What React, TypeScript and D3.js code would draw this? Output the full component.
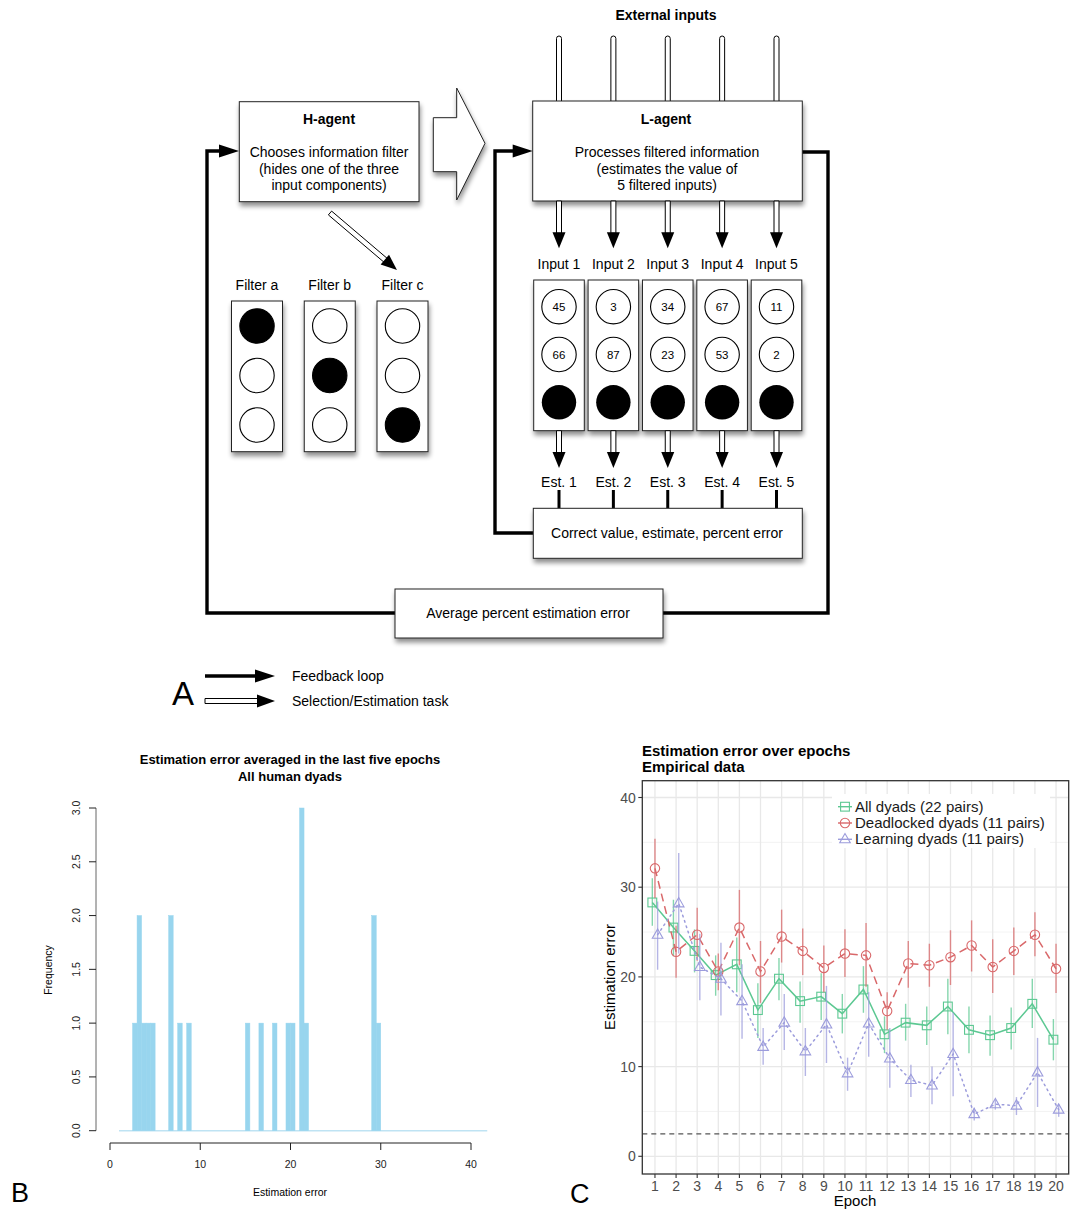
import React from "react";
import * as d3 from "d3";

const FONT = "'Liberation Sans', Arial, Helvetica, sans-serif";

// ---------- panel A: the agent diagram ----------
const inputLabels = ["Input 1", "Input 2", "Input 3", "Input 4", "Input 5"];
const estLabels = ["Est. 1", "Est. 2", "Est. 3", "Est. 4", "Est. 5"];
const inputFirst = [45, 3, 34, 67, 11];
const inputSecond = [66, 87, 23, 53, 2];
const filterLabels = ["Filter a", "Filter b", "Filter c"];
const filterHidden = [0, 1, 2]; // which of the three slots is blacked out
const hAgentText = ["Chooses information filter", "(hides one of the three", "input components)"];
const lAgentText = ["Processes filtered information", "(estimates the value of", "5 filtered inputs)"];
const legendAItems = ["Feedback loop", "Selection/Estimation task"];

// ---------- panel B: histogram ----------
const histBinStart = [2.5, 3, 3.5, 4, 4.5, 6.5, 7.5, 8.5, 15, 16.5, 18, 19.5, 20, 21, 21.5, 29, 29.5];
const histCounts = [1, 2, 1, 1, 1, 2, 1, 1, 1, 1, 1, 1, 1, 3, 1, 2, 1];
const histBinWidth = 0.5;
const histSpan = [1, 41.8];
const histXTicks = [0, 10, 20, 30, 40];
const histYTicks = [0, 0.5, 1, 1.5, 2, 2.5, 3];

// ---------- panel C: error over epochs ----------
const epochs = [1, 2, 3, 4, 5, 6, 7, 8, 9, 10, 11, 12, 13, 14, 15, 16, 17, 18, 19, 20];
const allMean = [28.3, 25.5, 22.9, 20.2, 21.4, 16.3, 19.8, 17.3, 17.8, 15.9, 18.6, 13.6, 14.9, 14.6, 16.7, 14.1, 13.5, 14.3, 17.0, 13.0];
const allLow = [25.7, 22.3, 20.5, 17.9, 18.3, 13.2, 17.4, 14.9, 15.2, 13.7, 16.0, 11.5, 12.9, 12.4, 13.6, 11.5, 11.2, 11.9, 14.3, 10.7];
const allHigh = [31.0, 28.6, 25.3, 22.4, 24.4, 19.3, 22.1, 19.5, 20.4, 18.1, 21.2, 15.6, 17.0, 16.7, 19.8, 16.7, 15.7, 16.6, 19.8, 15.3];
const deadMean = [32.1, 22.8, 24.7, 20.6, 25.5, 20.6, 24.5, 22.9, 21.0, 22.6, 22.4, 16.2, 21.5, 21.3, 22.2, 23.5, 21.1, 22.9, 24.7, 20.9];
const deadLow = [28.8, 19.9, 21.8, 18.5, 21.3, 17.1, 21.6, 20.2, 18.3, 20.0, 18.9, 14.1, 18.8, 18.9, 19.1, 20.6, 18.2, 20.2, 22.3, 18.2];
const deadHigh = [35.4, 25.7, 27.7, 22.6, 29.7, 24.0, 27.5, 25.4, 23.5, 25.3, 26.0, 18.3, 24.0, 23.7, 25.2, 26.3, 24.2, 25.5, 27.2, 23.7];
const learnMean = [24.7, 28.2, 21.1, 19.8, 17.3, 12.2, 14.9, 11.7, 14.7, 9.25, 14.8, 10.9, 8.5, 7.9, 11.4, 4.7, 5.8, 5.65, 9.35, 5.2];
const learnLow = [20.8, 22.6, 17.4, 15.7, 13.1, 10.2, 11.85, 8.95, 10.4, 7.3, 11.1, 7.65, 6.6, 5.8, 6.7, 4.0, 5.2, 4.6, 5.5, 4.4];
const learnHigh = [28.4, 33.8, 24.8, 23.8, 21.4, 14.3, 18.1, 14.3, 19.0, 11.0, 18.3, 14.3, 10.2, 10.0, 16.0, 5.4, 6.3, 6.6, 13.2, 5.8];
const seriesNames = ["All dyads (22 pairs)", "Deadlocked dyads (11 pairs)", "Learning dyads (11 pairs)"];
const chanceLevel = 2.5;
const cYTicks = [0, 10, 20, 30, 40];
const cYMinor = [5, 15, 25, 35];

// arrow head triangle, tip at (x2,y2)
function head(x1: number, y1: number, x2: number, y2: number, L: number, W: number) {
  const len = Math.hypot(x2 - x1, y2 - y1);
  const ux = (x2 - x1) / len, uy = (y2 - y1) / len;
  const bx = x2 - ux * L, by = y2 - uy * L;
  return `${x2},${y2} ${bx - uy * W},${by + ux * W} ${bx + uy * W},${by - ux * W}`;
}

// hollow shaft + black head (selection / estimation task)
function DoubleArrow({ x1, y1, x2, y2, L = 16, W = 6.5 }: any) {
  const len = Math.hypot(x2 - x1, y2 - y1);
  const ux = (x2 - x1) / len, uy = (y2 - y1) / len;
  const ex = x2 - ux * (L - 1), ey = y2 - uy * (L - 1);
  const h = 2.5;
  const shaft = `${x1 - uy * h},${y1 + ux * h} ${ex - uy * h},${ey + ux * h} ${ex + uy * h},${ey - ux * h} ${x1 + uy * h},${y1 - ux * h}`;
  return (
    <g>
      <polygon points={shaft} fill="#fff" stroke="#000" strokeWidth={1} />
      <polygon points={head(x1, y1, x2, y2, L, W)} fill="#000" />
    </g>
  );
}

// thick black polyline with a head at the end (feedback loop)
function LoopArrow({ pts, arrow = true }: any) {
  const n = pts.length;
  const [ax, ay] = pts[n - 2];
  const [bx, by] = pts[n - 1];
  const L = 20;
  const len = Math.hypot(bx - ax, by - ay);
  const cut = arrow ? [bx - ((bx - ax) / len) * (L - 2), by - ((by - ay) / len) * (L - 2)] : [bx, by];
  const line = d3.line()([...pts.slice(0, n - 1), cut] as any) as string;
  return (
    <g>
      <path d={line} fill="none" stroke="#000" strokeWidth={3.4} strokeLinejoin="miter" />
      {arrow && <polygon points={head(ax, ay, bx, by, L, 6.5)} fill="#000" />}
    </g>
  );
}

function Box({ x, y, w, h }: any) {
  return <rect x={x} y={y} width={w} height={h} fill="#fff" stroke="#222" strokeWidth={1} filter="url(#shadow)" />;
}

function Marker({ x, y, shape, color }: any) {
  if (shape === "square")
    return <rect x={x - 4.4} y={y - 4.4} width={8.8} height={8.8} fill="none" stroke={color} strokeWidth={1.1} />;
  if (shape === "circle") return <circle cx={x} cy={y} r={4.7} fill="none" stroke={color} strokeWidth={1.1} />;
  return <polygon points={`${x},${y - 5.8} ${x - 5.3},${y + 3.5} ${x + 5.3},${y + 3.5}`} fill="none" stroke={color} strokeWidth={1.1} />;
}

export default function App() {
  // ----- panel A scales
  const inX = d3.scalePoint<string>().domain(inputLabels).range([559, 776.5]);
  const inRow = d3.scalePoint<number>().domain([0, 1, 2]).range([306.7, 402.3]);
  const fX = d3.scalePoint<string>().domain(filterLabels).range([257, 402.5]);
  const fRow = d3.scalePoint<number>().domain([0, 1, 2]).range([326, 425]);

  // ----- panel B scales
  const bx = d3.scaleLinear().domain([0, 40]).range([110, 471]);
  const by = d3.scaleLinear().domain([0, 3]).range([1130.7, 808]);

  // ----- panel C scales
  const cx = d3.scaleLinear().domain([0.4, 20.6]).range([642.3, 1068.7]);
  const cy = d3.scaleLinear().domain([0, 40]).range([1156.3, 797.5]);
  const pTop = 780.7, pBot = 1174, pLeft = cx(0.4), pRight = cx(20.6);

  const series = [
    { name: seriesNames[0], mean: allMean, lo: allLow, hi: allHigh, color: "#5cc892", dash: undefined, shape: "square", dodge: -0.125 },
    { name: seriesNames[1], mean: deadMean, lo: deadLow, hi: deadHigh, color: "#d9686a", dash: "8 5", shape: "circle", dodge: 0 },
    { name: seriesNames[2], mean: learnMean, lo: learnLow, hi: learnHigh, color: "#9c9cdc", dash: "1.6 4", shape: "triangle", dodge: 0.125 },
  ];

  return (
    <div style={{ position: "absolute", left: 0, top: 0 }}>
      <svg width={1079} height={1209} style={{ display: "block", background: "#fff", fontFamily: FONT }}>
        <defs>
          <filter id="shadow" x="-20%" y="-20%" width="150%" height="160%">
            <feGaussianBlur in="SourceAlpha" stdDeviation={2.5} />
            <feOffset dx={1} dy={4} result="b" />
            <feComponentTransfer>
              <feFuncA type="linear" slope={0.45} />
            </feComponentTransfer>
            <feMerge>
              <feMergeNode />
              <feMergeNode in="SourceGraphic" />
            </feMerge>
          </filter>
        </defs>

        {/* ================= Panel A ================= */}
        <text x={666} y={20} textAnchor="middle" fontSize={14} fontWeight="bold">External inputs</text>
        {inputLabels.map((d) => (
          <rect key={"ext" + d} x={inX(d)! - 2.5} y={36} width={5} height={70} rx={2.5} fill="#fff" stroke="#000" strokeWidth={1} />
        ))}

        {/* feedback loops */}
        <LoopArrow pts={[[395, 613], [207, 613], [207, 151], [239, 151]]} />
        <LoopArrow pts={[[663, 613], [828, 613], [828, 152], [802, 152]]} arrow={false} />
        <LoopArrow pts={[[533, 533], [495, 533], [495, 151], [532.7, 151]]} />

        {/* H-agent */}
        <Box x={239.3} y={101.7} w={179.7} h={100} />
        <text x={329} y={124} textAnchor="middle" fontSize={14} fontWeight="bold">H-agent</text>
        {hAgentText.map((t, i) => (
          <text key={t} x={329} y={157 + i * 16.5} textAnchor="middle" fontSize={14}>{t}</text>
        ))}

        {/* big hollow arrow between the agents */}
        <polygon
          points="433.3,117.7 456.7,117.7 456.7,88 485,143.3 456.7,200 456.7,171.7 433.3,171.7"
          fill="#fff"
          stroke="#222"
          strokeWidth={1}
          filter="url(#shadow)"
        />

        {/* L-agent */}
        <Box x={532.7} y={101} w={269.6} h={100} />
        <text x={666} y={124} textAnchor="middle" fontSize={14} fontWeight="bold">L-agent</text>
        {lAgentText.map((t, i) => (
          <text key={t} x={667} y={157 + i * 16.5} textAnchor="middle" fontSize={14}>{t}</text>
        ))}

        {/* H-agent to filters */}
        <DoubleArrow x1={330} y1={213} x2={397} y2={270} />

        {/* filters */}
        {filterLabels.map((f, i) => (
          <g key={f}>
            <text x={fX(f)!} y={290} textAnchor="middle" fontSize={14}>{f}</text>
            <Box x={fX(f)! - 25.5} y={301} w={51} h={150.7} />
            {[0, 1, 2].map((r) => (
              <circle key={r} cx={fX(f)!} cy={fRow(r)!} r={17.2} fill={filterHidden[i] === r ? "#000" : "#fff"} stroke="#000" strokeWidth={1.1} />
            ))}
          </g>
        ))}

        {/* inputs */}
        {inputLabels.map((d, i) => {
          const x = inX(d)!;
          return (
            <g key={d}>
              <DoubleArrow x1={x} y1={201} x2={x} y2={248.3} />
              <text x={x} y={268.5} textAnchor="middle" fontSize={14}>{d}</text>
              <Box x={x - 25.3} y={280} w={50.6} h={150.7} />
              {[inputFirst[i], inputSecond[i]].map((v, r) => (
                <g key={r}>
                  <circle cx={x} cy={inRow(r)!} r={17.2} fill="#fff" stroke="#000" strokeWidth={1.1} />
                  <text x={x} y={inRow(r)! + 4.2} textAnchor="middle" fontSize={11.5}>{v}</text>
                </g>
              ))}
              <circle cx={x} cy={inRow(2)!} r={17.2} fill="#000" />
              <DoubleArrow x1={x} y1={430.7} x2={x} y2={468} />
              <text x={x} y={486.5} textAnchor="middle" fontSize={14}>{estLabels[i]}</text>
              <line x1={x} x2={x} y1={490} y2={508.3} stroke="#000" strokeWidth={3} />
            </g>
          );
        })}

        {/* correct value box */}
        <Box x={533.3} y={508.3} w={269} h={50} />
        <text x={667} y={538} textAnchor="middle" fontSize={14}>Correct value, estimate, percent error</text>

        {/* average error box */}
        <Box x={395} y={589} w={268} h={49} />
        <text x={528} y={618} textAnchor="middle" fontSize={14}>Average percent estimation error</text>

        {/* legend A */}
        <text x={172} y={705} fontSize={33}>A</text>
        <LoopArrow pts={[[205, 676], [275, 676]]} />
        <DoubleArrow x1={205} y1={701} x2={275} y2={701} L={18} W={6.5} />
        {legendAItems.map((t, i) => (
          <text key={t} x={292} y={681 + i * 25} fontSize={14}>{t}</text>
        ))}

        {/* ================= Panel B ================= */}
        <text x={290} y={764} textAnchor="middle" fontSize={13} fontWeight="bold">Estimation error averaged in the last five epochs</text>
        <text x={290} y={781} textAnchor="middle" fontSize={13} fontWeight="bold">All human dyads</text>

        <line x1={bx(histSpan[0])} x2={bx(histSpan[1])} y1={by(0)} y2={by(0)} stroke="#bfe3f3" strokeWidth={1.6} />
        {histBinStart.map((s, i) => (
          <rect
            key={i}
            x={bx(s)}
            y={by(histCounts[i])}
            width={bx(s + histBinWidth) - bx(s)}
            height={by(0) - by(histCounts[i])}
            fill="#98d5ee"
            stroke="#98d5ee"
            strokeWidth={0.5}
          />
        ))}

        {/* y axis */}
        <line x1={96} x2={96} y1={by(0)} y2={by(3)} stroke="#666" strokeWidth={1} />
        {histYTicks.map((t) => (
          <g key={t}>
            <line x1={89} x2={96} y1={by(t)} y2={by(t)} stroke="#222" strokeWidth={1} />
            <text transform={`translate(80,${by(t)}) rotate(-90)`} textAnchor="middle" fontSize={10.5} fill="#222">
              {t.toFixed(1)}
            </text>
          </g>
        ))}
        <text transform="translate(52,970) rotate(-90)" textAnchor="middle" fontSize={10.5}>Frequency</text>

        {/* x axis */}
        <line x1={bx(0)} x2={bx(40)} y1={1143} y2={1143} stroke="#222" strokeWidth={1} />
        {histXTicks.map((t) => (
          <g key={t}>
            <line x1={bx(t)} x2={bx(t)} y1={1143} y2={1150} stroke="#222" strokeWidth={1} />
            <text x={bx(t)} y={1168} textAnchor="middle" fontSize={10.5} fill="#222">{t}</text>
          </g>
        ))}
        <text x={290} y={1196} textAnchor="middle" fontSize={10.5}>Estimation error</text>
        <text x={11} y={1202} fontSize={27}>B</text>

        {/* ================= Panel C ================= */}
        <text x={642} y={756} fontSize={15} fontWeight="bold">Estimation error over epochs</text>
        <text x={642} y={772} fontSize={15} fontWeight="bold">Empirical data</text>

        <rect x={pLeft} y={pTop} width={pRight - pLeft} height={pBot - pTop} fill="#fff" />
        {cYMinor.map((t) => (
          <line key={"mn" + t} x1={pLeft} x2={pRight} y1={cy(t)} y2={cy(t)} stroke="#f0f0f0" strokeWidth={0.8} />
        ))}
        {cYTicks.map((t) => (
          <line key={"mj" + t} x1={pLeft} x2={pRight} y1={cy(t)} y2={cy(t)} stroke="#e8e8e8" strokeWidth={1.3} />
        ))}
        {epochs.map((e) => (
          <line key={"v" + e} x1={cx(e)} x2={cx(e)} y1={pTop} y2={pBot} stroke="#e8e8e8" strokeWidth={1.3} />
        ))}

        <line x1={pLeft} x2={pRight} y1={cy(chanceLevel)} y2={cy(chanceLevel)} stroke="#555" strokeWidth={1.3} strokeDasharray="5 4" />

        {series.map((s) => {
          const path = d3
            .line<number>()
            .x((_, i) => cx(epochs[i] + s.dodge))
            .y((d) => cy(d))(s.mean) as string;
          return (
            <g key={s.name}>
              {epochs.map((e, i) => (
                <line
                  key={e}
                  x1={cx(e + s.dodge)}
                  x2={cx(e + s.dodge)}
                  y1={cy(s.lo[i])}
                  y2={cy(s.hi[i])}
                  stroke={s.color}
                  strokeOpacity={0.75}
                  strokeWidth={1.4}
                />
              ))}
              <path d={path} fill="none" stroke={s.color} strokeWidth={1.5} strokeDasharray={s.dash} strokeLinecap={s.shape === "triangle" ? "round" : "butt"} />
              {epochs.map((e, i) => (
                <Marker key={"m" + e} x={cx(e + s.dodge)} y={cy(s.mean[i])} shape={s.shape} color={s.color} />
              ))}
            </g>
          );
        })}

        {/* legend */}
        <rect x={832} y={794} width={218} height={54} fill="#fff" />
        {series.map((s, i) => {
          const yy = 806.7 + i * 16.3;
          return (
            <g key={"lg" + s.name}>
              <line x1={838} x2={852} y1={yy} y2={yy} stroke={s.color} strokeWidth={1.4} />
              <Marker x={845} y={yy} shape={s.shape} color={s.color} />
              <text x={855} y={yy + 5} fontSize={15} fill="#1a1a1a">{s.name}</text>
            </g>
          );
        })}

        <rect x={pLeft} y={pTop} width={pRight - pLeft} height={pBot - pTop} fill="none" stroke="#333" strokeWidth={1.3} />

        {cYTicks.map((t) => (
          <g key={"yt" + t}>
            <line x1={pLeft - 4} x2={pLeft} y1={cy(t)} y2={cy(t)} stroke="#333" strokeWidth={1.1} />
            <text x={pLeft - 6.5} y={cy(t) + 5} textAnchor="end" fontSize={14} fill="#4d4d4d">{t}</text>
          </g>
        ))}
        {epochs.map((e) => (
          <g key={"xt" + e}>
            <line x1={cx(e)} x2={cx(e)} y1={pBot} y2={pBot + 4} stroke="#333" strokeWidth={1.1} />
            <text x={cx(e)} y={1191} textAnchor="middle" fontSize={14} fill="#4d4d4d">{e}</text>
          </g>
        ))}
        <text x={855} y={1206} textAnchor="middle" fontSize={15}>Epoch</text>
        <text transform="translate(615,977) rotate(-90)" textAnchor="middle" fontSize={15}>Estimation error</text>
        <text x={570} y={1203} fontSize={27}>C</text>
      </svg>
    </div>
  );
}
